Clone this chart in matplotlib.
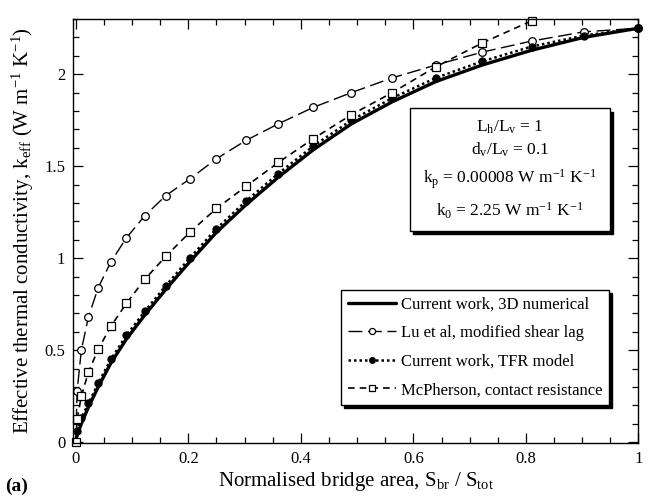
import matplotlib
matplotlib.use("Agg")
import matplotlib.pyplot as plt
from matplotlib.patches import Rectangle
from matplotlib.transforms import offset_copy
from matplotlib.ticker import MultipleLocator, FormatStrFormatter

plt.rcParams['font.family'] = ['Liberation Serif', 'DejaVu Serif']
plt.rcParams['mathtext.default'] = 'regular'

# normalised bridge area S_br/S_tot
s_ratio = [0.0, 0.0025, 0.01, 0.0225, 0.04, 0.0625, 0.09, 0.1225, 0.16, 0.2025,
           0.25, 0.3025, 0.36, 0.4225, 0.49, 0.5625, 0.64, 0.7225, 0.81, 0.9025, 1.0]

# effective conductivity (W m-1 K-1)
k_numerical = [0.0, 0.04, 0.10, 0.19, 0.30, 0.43, 0.56, 0.69, 0.83, 0.98,
               1.14, 1.29, 1.44, 1.59, 1.73, 1.85, 1.96, 2.05, 2.13, 2.20, 2.25]
k_lu = [0.0, 0.28, 0.50, 0.68, 0.84, 0.98, 1.11, 1.23, 1.34, 1.43,
        1.54, 1.64, 1.73, 1.82, 1.90, 1.98, 2.05, 2.12, 2.18, 2.23, 2.25]
k_tfr = [0.0, 0.06, 0.13, 0.21, 0.32, 0.45, 0.58, 0.71, 0.85, 1.00,
         1.16, 1.31, 1.46, 1.61, 1.75, 1.87, 1.98, 2.07, 2.15, 2.21, 2.25]
# McPherson model runs off the top of the axes after S = 0.81
s_mcp = s_ratio[:19]
k_mcp = [0.0, 0.125, 0.25, 0.38, 0.505, 0.63, 0.754, 0.884, 1.01, 1.14,
         1.27, 1.39, 1.52, 1.65, 1.78, 1.90, 2.04, 2.17, 2.29]

fig = plt.figure(figsize=(6.48, 5.04), dpi=100)
ax = fig.add_axes([0.1134, 0.121, 0.8719, 0.8413])

ax.plot(s_ratio, k_numerical, color='k', lw=2.4, solid_capstyle='round',
        label='Current work, 3D numerical')
ax.plot(s_ratio, k_lu, color='k', lw=1.0, dashes=(10, 4), marker='o', ms=5.5,
        mfc='white', mec='k', mew=0.9, clip_on=False,
        label='Lu et al, modified shear lag')
ax.plot(s_ratio, k_tfr, color='k', lw=1.8, ls=(0, (1, 1.2)), marker='o', ms=5,
        mfc='k', mec='k', clip_on=False, label='Current work, TFR model')
ax.plot(s_mcp, k_mcp, color='k', lw=1.2, dashes=(4, 3), marker='s', ms=6,
        mfc='white', mec='k', mew=0.9, clip_on=False,
        label='McPherson, contact resistance')

ax.set_xlim(-0.004, 1.0)
ax.set_ylim(-0.005, 2.3)
ax.xaxis.set_major_locator(MultipleLocator(0.2))
ax.xaxis.set_minor_locator(MultipleLocator(0.05))
ax.yaxis.set_major_locator(MultipleLocator(0.5))
ax.yaxis.set_minor_locator(MultipleLocator(0.1))
ax.xaxis.set_major_formatter(FormatStrFormatter('%g'))
ax.yaxis.set_major_formatter(FormatStrFormatter('%g'))
ax.tick_params(which='both', direction='in', top=True, right=True,
               labelsize=12, width=0.9)
ax.tick_params(which='major', length=7, pad=6)
ax.tick_params(which='minor', length=4)
for sp in ax.spines.values():
    sp.set_linewidth(1.0)

ax.set_xlabel('Normalised bridge area, S$_{br}$ / S$_{tot}$', fontsize=15, labelpad=2)
ax.set_ylabel('Effective thermal conductivity, k$_{eff}$ (W m$^{-1}$ K$^{-1}$)',
              fontsize=15, labelpad=6)

# parameter box with drop shadow
bx, by, bw, bh = 0.5956, 0.5, 0.354, 0.29
shadow_tr = offset_copy(ax.transAxes, fig=fig, x=2.5, y=-2.5, units='points')
ax.add_patch(Rectangle((bx, by), bw, bh, transform=shadow_tr, fc='k', ec='k',
                       zorder=5))
ax.add_patch(Rectangle((bx, by), bw, bh, transform=ax.transAxes, fc='white',
                       ec='k', lw=1.0, zorder=6))
cx = bx + bw / 2
params = ['L$_h$/L$_v$ = 1',
          'd$_v$/L$_v$ = 0.1',
          'k$_p$ = 0.00008 W m$^{-1}$ K$^{-1}$',
          'k$_0$ = 2.25 W m$^{-1}$ K$^{-1}$']
rows = [0.745, 0.692, 0.622, 0.548]
for txt, yy in zip(params, rows):
    ax.text(cx, yy, txt, transform=ax.transAxes, ha='center', va='center',
            fontsize=12.5, zorder=7)

leg = ax.legend(loc='lower right', bbox_to_anchor=(0.948, 0.09),
                borderaxespad=0, fancybox=False, edgecolor='k', framealpha=1,
                shadow={'color': 'k', 'alpha': 1}, fontsize=12,
                handlelength=2.9, handletextpad=0.3, labelspacing=0.75,
                borderpad=0.4, numpoints=1, markerscale=0.8)
leg.get_frame().set_linewidth(1.0)
leg.set_zorder(8)

fig.text(0.008, 0.025, '(a)', fontsize=14, fontweight='bold')

fig.savefig('out.png', dpi=100)
